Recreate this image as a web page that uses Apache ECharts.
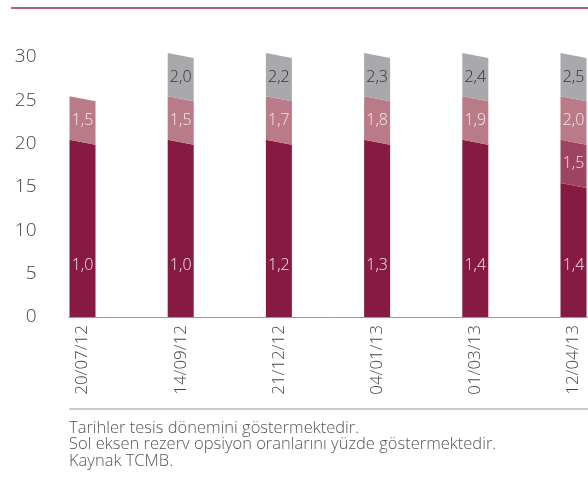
<!DOCTYPE html>
<html>
<head>
<meta charset="utf-8">
<script src="https://cdn.jsdelivr.net/npm/echarts@6/dist/echarts.min.js"></script>
<style>
html, body { margin: 0; padding: 0; background: #fff; }
#chart { width: 588px; height: 477px; }
</style>
</head>
<body>
<div id="chart"></div>
<script>
// tarihler
const categories = ['20/07/12', '14/09/12', '21/12/12', '04/01/13', '01/03/13', '12/04/13'];
// dilim genişlikleri (yüzde)
const tranche1 = [20, 20, 20, 20, 20, 15];
const tranche2 = [0, 0, 0, 0, 0, 5];
const tranche3 = [5, 5, 5, 5, 5, 5];
const tranche4 = [0, 5, 5, 5, 5, 5];
// rezerv opsiyon katsayıları
const ratio1 = ['1,0', '1,0', '1,2', '1,3', '1,4', '1,4'];
const ratio2 = ['', '', '', '', '', '1,5'];
const ratio3 = ['1,5', '1,5', '1,7', '1,8', '1,9', '2,0'];
const ratio4 = ['', '2,0', '2,2', '2,3', '2,4', '2,5'];
const yMin = 0, yMax = 30, yStep = 5;
const notes = [
    'Tarihler tesis dönemini göstermektedir.',
    'Sol eksen rezerv opsiyon oranlarını yüzde göstermektedir.',
    'Kaynak TCMB.'
];

const FONT = '"Open Sans", Roboto, sans-serif';
const barW = 26;

// üst üste yığılmış dilimler
const tranches = [tranche1, tranche2, tranche3, tranche4];
const base = categories.map(() => 0);
const stacked = tranches.map(t => t.map((v, i) => {
    const low = base[i];
    base[i] += v;
    return [i, low, base[i]];
}));

const makeSeries = (idx, labels, color, textColor) => ({
    type: 'custom',
    data: stacked[idx],
    renderItem: (params, api) => {
        const i = api.value(0), low = api.value(1), high = api.value(2);
        if (high <= low) return null;
        const t = api.coord([i, high]);
        const b = api.coord([i, low]);
        const x0 = t[0] - barW / 2, x1 = t[0] + barW / 2;
        const bl = low > 0 ? b[1] - 4 : b[1];
        const br = low > 0 ? b[1] + 1 : b[1];
        let ly;
        if (idx === 0) ly = api.coord([i, low + 6])[1];
        else ly = (t[1] + b[1]) / 2 - 1.5;
        return {
            type: 'group',
            children: [{
                type: 'polygon',
                shape: { points: [[x0, t[1] - 4], [x1, t[1] + 1], [x1, br], [x0, bl]] },
                style: { fill: color }
            }, {
                type: 'text',
                x: t[0], y: ly,
                style: {
                    text: labels[params.dataIndex],
                    fill: textColor,
                    font: '300 16px ' + FONT,
                    align: 'center',
                    verticalAlign: 'middle'
                }
            }]
        };
    }
});

const chart = echarts.init(document.getElementById('chart'));
chart.setOption({
    animation: false,
    grid: [
        { left: 82.5, right: 14.5, top: 57, bottom: 160 },
        { left: 69, right: 0, top: 57, bottom: 160 }
    ],
    xAxis: [{
        type: 'category',
        data: categories,
        boundaryGap: false,
        axisLine: { show: false },
        axisTick: { show: false },
        axisLabel: {
            rotate: 90,
            margin: 8,
            color: '#444',
            fontSize: 17,
            fontWeight: 300,
            fontFamily: FONT
        }
    }, {
        gridIndex: 1,
        type: 'value',
        axisLine: { show: true, lineStyle: { color: '#999', width: 1 } },
        axisTick: { show: false },
        axisLabel: { show: false },
        splitLine: { show: false }
    }],
    yAxis: [{
        type: 'value',
        min: yMin,
        max: yMax,
        interval: yStep,
        axisLine: { show: false },
        axisTick: { show: false },
        splitLine: { show: false },
        axisLabel: {
            margin: 46,
            color: '#444',
            fontSize: 19,
            fontWeight: 300,
            fontFamily: FONT
        }
    }, {
        gridIndex: 1,
        type: 'value',
        show: false
    }],
    series: [
        makeSeries(0, ratio1, '#861a42', '#f3e3e9'),
        makeSeries(1, ratio2, '#9c4461', '#f3e3e9'),
        makeSeries(2, ratio3, '#b97b88', '#f6e8ec'),
        makeSeries(3, ratio4, '#a9a9ad', '#333')
    ],
    graphic: [{
        type: 'line',
        shape: { x1: 11, y1: 8, x2: 588, y2: 8 },
        style: { stroke: '#9d2a55', lineWidth: 1.5 }
    }, {
        type: 'line',
        shape: { x1: 69, y1: 409, x2: 588, y2: 409 },
        style: { stroke: '#999', lineWidth: 1 }
    }].concat(notes.map((n, k) => ({
        type: 'text',
        x: 69,
        y: 428 + k * 16.5,
        style: {
            text: n,
            fill: '#555',
            font: '300 16.5px ' + FONT,
            verticalAlign: 'middle'
        }
    })))
});
</script>
</body>
</html>
